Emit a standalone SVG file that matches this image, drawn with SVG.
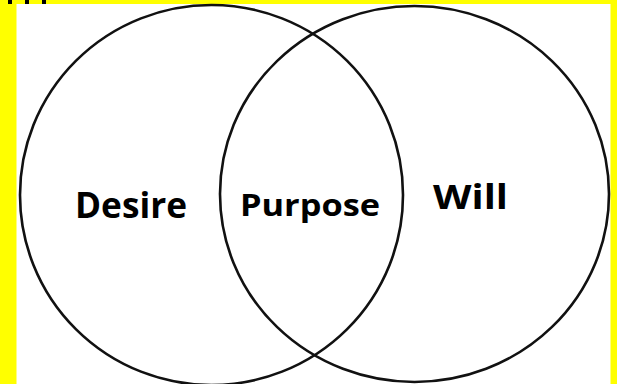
<svg xmlns="http://www.w3.org/2000/svg" width="617" height="384" viewBox="0 0 617 384">
  <style>
    .ring { fill: none; stroke: #111; stroke-width: 2.6; }
    .lbl { font-family: "Open Sans", "Liberation Sans", Arial, sans-serif; font-weight: bold; fill: #000; }
  </style>
  <rect x="0" y="0" width="617" height="384" fill="#ffff00"/>
  <rect x="16.5" y="4" width="594" height="384" fill="#ffffff"/>
  <g id="cutoff-marks" fill="#000">
    <rect x="8" y="0" width="4" height="4"/>
    <rect x="25" y="0" width="4" height="4"/>
    <rect x="42" y="0" width="4" height="4"/>
  </g>
  <g id="desire">
    <ellipse class="ring" cx="211.5" cy="195" rx="191.5" ry="190"/>
    <text class="lbl" x="75" y="218" font-size="36" textLength="112" lengthAdjust="spacingAndGlyphs">Desire</text>
  </g>
  <g id="will">
    <ellipse class="ring" cx="414.5" cy="194" rx="194.5" ry="188"/>
    <text class="lbl" x="433" y="209" font-size="34" textLength="75" lengthAdjust="spacingAndGlyphs">Will</text>
  </g>
  <g id="purpose">
    <text class="lbl" x="240" y="216" font-size="31" textLength="140" lengthAdjust="spacingAndGlyphs">Purpose</text>
  </g>
</svg>
